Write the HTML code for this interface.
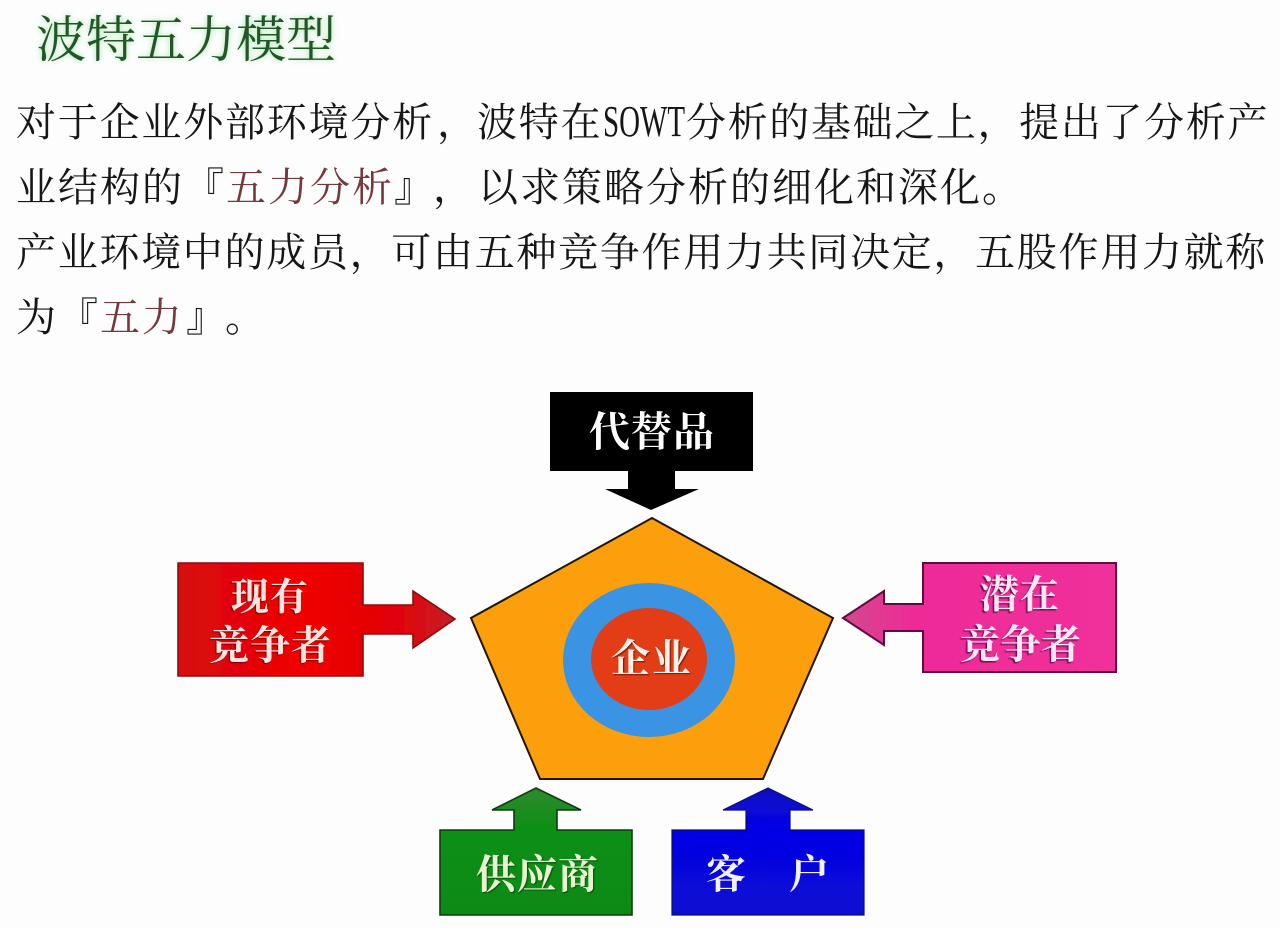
<!DOCTYPE html>
<html lang="zh">
<head>
<meta charset="utf-8">
<title>波特五力模型</title>
<style>
html,body{margin:0;padding:0;background:#fdfdfe;width:1280px;height:928px;overflow:hidden}
svg{display:block}
text{font-family:"Liberation Serif","Noto Serif CJK SC",serif;text-spacing-trim:space-all}
.b{font-size:40px;fill:#141414;letter-spacing:1.65px}
.m{letter-spacing:1.8px}
.w{letter-spacing:2px}
.r{fill:#74393c}
.l{font-weight:700;fill:#fff}
</style>
</head>
<body>
<svg xmlns="http://www.w3.org/2000/svg" width="1280" height="928" viewBox="0 0 1280 928">
<defs>
<filter id="soft" x="-5%" y="-5%" width="110%" height="110%"><feGaussianBlur stdDeviation="0.35"/></filter>
<filter id="glow" x="-10%" y="-40%" width="120%" height="180%"><feGaussianBlur stdDeviation="3"/></filter>
<filter id="sr" x="-10%" y="-10%" width="120%" height="120%"><feDropShadow dx="-1" dy="1" stdDeviation="0.5" flood-color="#6d0505"/></filter>
<filter id="sp" x="-10%" y="-10%" width="120%" height="120%"><feDropShadow dx="-1.5" dy="1.5" stdDeviation="0.5" flood-color="#6b0a4e"/></filter>
<filter id="sg" x="-10%" y="-10%" width="120%" height="120%"><feDropShadow dx="1" dy="1" stdDeviation="0.5" flood-color="#0c4a0c"/></filter>
<filter id="so" x="-10%" y="-10%" width="120%" height="120%"><feDropShadow dx="1" dy="1" stdDeviation="0.6" flood-color="#6d1606"/></filter>
<linearGradient id="gr" x1="0" y1="0" x2="1" y2="0"><stop offset="0" stop-color="#d70a10"/><stop offset=".45" stop-color="#f00000"/><stop offset=".8" stop-color="#e00408"/><stop offset="1" stop-color="#c2202a"/></linearGradient>
<linearGradient id="gp" x1="1" y1="0" x2="0" y2="0"><stop offset="0" stop-color="#f0309c"/><stop offset=".75" stop-color="#ee2b97"/><stop offset="1" stop-color="#d04a8c"/></linearGradient>
<linearGradient id="gg" x1="0" y1="0" x2="0" y2="1"><stop offset="0" stop-color="#2f8a2f"/><stop offset=".3" stop-color="#0f8f16"/><stop offset="1" stop-color="#118a17"/></linearGradient>
<linearGradient id="gb" x1="0" y1="0" x2="0" y2="1"><stop offset="0" stop-color="#0a0ac0"/><stop offset=".3" stop-color="#0505e6"/><stop offset="1" stop-color="#0808d2"/></linearGradient>
</defs>

<rect width="1280" height="928" fill="#fdfdfe"/>

<!-- title -->
<text x="36" y="57" font-size="50" fill="#9be29b" filter="url(#glow)">波特五力模型</text>
<text x="36" y="57" font-size="50" fill="#24562c" filter="url(#soft)">波特五力模型</text>

<!-- paragraph -->
<g filter="url(#soft)">
<text class="b m" x="16" y="136">对于企业外部环境分析</text>
<text class="b" x="437" y="136">，</text>
<text class="b m" x="477" y="136">波特在</text>
<text x="603" y="136" font-size="44" fill="#141414" textLength="82" lengthAdjust="spacingAndGlyphs">SOWT</text>
<text class="b" x="686" y="136">分析的基础之上，提出了分析产</text>

<text class="b w" x="16" y="201">业结构的</text>
<text class="b" x="184" y="201">『</text>
<text class="b w r" x="226" y="201">五力分析</text>
<text class="b" x="394" y="201">』</text>
<text class="b" x="433" y="201">，</text>
<text class="b w" x="478" y="201">以求策略分析的细化和深化。</text>

<text class="b" x="16" y="266" style="letter-spacing:1.7px">产业环境中的成员，可由五种竞争作用力共同决定，五股作用力就称</text>

<text class="b" x="16" y="331">为</text>
<text class="b" x="58" y="331">『</text>
<text class="b r" x="100" y="331">五力</text>
<text class="b" x="186" y="331">』</text>
<text class="b" x="225" y="331">。</text>
</g>

<!-- pentagon -->
<g filter="url(#soft)">
<polygon points="652,518 833,618 763,779 540,779 471,618" fill="#fb9f0a" stroke="#221405" stroke-width="2"/>
<ellipse cx="649" cy="660" rx="86" ry="77" fill="#3a93e4"/>
<ellipse cx="649" cy="659" rx="58" ry="51" fill="#e23d14"/>

<!-- black -->
<polygon points="550,392 753,392 753,471 675,471 675,489 699,489 651,510 605,489 628,489 628,471 550,471" fill="#000"/>

<!-- red -->
<polygon points="178,563 363,563 363,605 413,605 413,591 455,619 413,648 413,634 363,634 363,676 178,676" fill="url(#gr)" stroke="#8c0d10" stroke-width="1.6"/>

<!-- pink -->
<polygon points="1116,563 923,563 923,604 884,604 884,591 843,618 884,645 884,631 923,631 923,672 1116,672" fill="url(#gp)" stroke="#5c0a3f" stroke-width="2"/>

<!-- green -->
<polygon points="440,830 514,830 514,810 492,810 536,788 581,810 557,810 557,830 632,830 632,915 440,915" fill="url(#gg)" stroke="#0d3d10" stroke-width="1.6"/>

<!-- blue -->
<polygon points="672,830 746,830 746,810 723,810 768,788 813,810 790,810 790,830 864,830 864,915 672,915" fill="url(#gb)" stroke="#0a0a70" stroke-width="1.2"/>
</g>

<!-- labels -->
<text class="l" x="589" y="446" font-size="41" textLength="125" lengthAdjust="spacing" filter="url(#soft)">代替品</text>
<g filter="url(#sr)">
<text class="l" x="231" y="610" font-size="38" style="fill:#ffe3dc" textLength="77" lengthAdjust="spacing">现有</text>
<text class="l" x="209" y="659" font-size="40" style="fill:#ffe3dc" textLength="122" lengthAdjust="spacing">竞争者</text>
</g>
<g filter="url(#sp)">
<text class="l" x="980" y="608" font-size="39" style="fill:#ffe6f4" textLength="79" lengthAdjust="spacing">潜在</text>
<text class="l" x="960" y="658" font-size="40" style="fill:#ffe6f4" textLength="121" lengthAdjust="spacing">竞争者</text>
</g>
<text class="l" x="611" y="672" font-size="39" style="fill:#fff0e6" textLength="80" lengthAdjust="spacing" filter="url(#so)">企业</text>
<text class="l" x="476" y="888" font-size="40" style="fill:#e6f7cf" textLength="122" lengthAdjust="spacing" filter="url(#sg)">供应商</text>
<g filter="url(#soft)">
<text class="l" x="706" y="888" font-size="40" style="fill:#f0f0ff">客</text>
<text class="l" x="789" y="888" font-size="40" style="fill:#f0f0ff">户</text>
</g>
</svg>
</body>
</html>
